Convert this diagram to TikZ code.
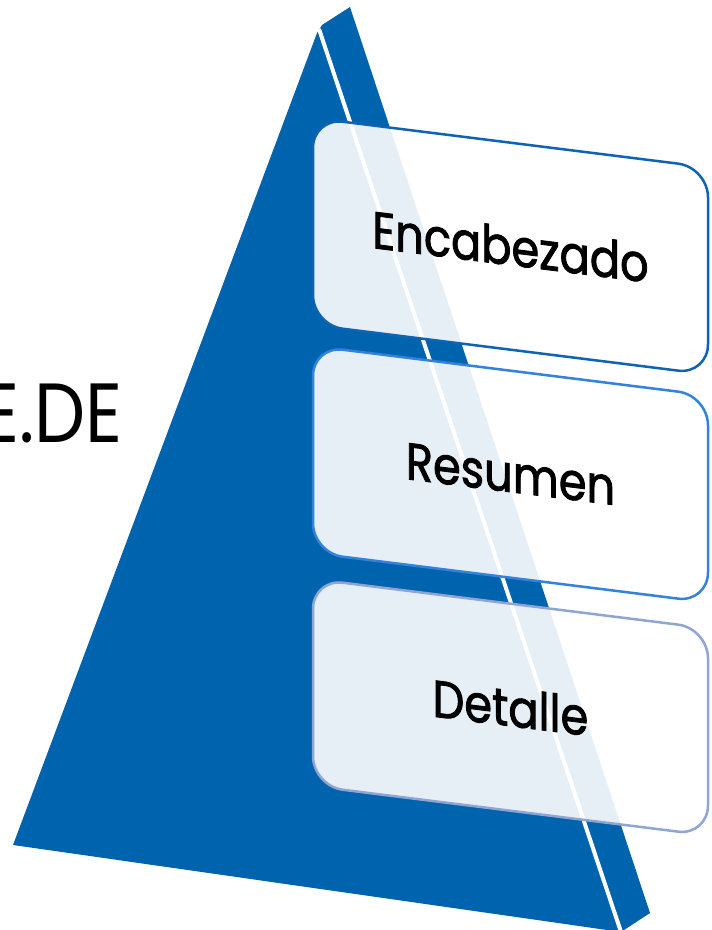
\documentclass[tikz,border=0pt]{standalone}
\usepackage{fontspec}
\newfontfamily\geofont[FakeStretch=0.86]{Poppins}
\newfontfamily\geoboxfont[FakeStretch=0.86,FakeBold=1.6]{Poppins}
\definecolor{pyrblue}{RGB}{0,99,173}
\definecolor{edgeone}{RGB}{16,98,178}
\definecolor{edgetwo}{RGB}{52,130,220}
\definecolor{edgethree}{RGB}{143,166,212}
\tikzset{
  levelbox/.style={fill=white,fill opacity=0.9,rounded corners=30pt,line width=2.5pt},
  leveltext/.style={font=\geoboxfont\fontsize{52}{60}\selectfont,inner sep=0pt,transform shape}
}
\begin{document}
\begin{tikzpicture}[x=1pt,y=-1pt]
\useasboundingbox (0,0) rectangle (712,930);
\clip (0,0) rectangle (712,930);
% pyramid with its white ridge
\fill[pyrblue] (317,33) -- (322,25) -- (350,7) -- (650,913) -- (621,932) -- (13,845) -- cycle;
\draw[white,line width=4pt] (319,29) -- (622,935);
\node[font=\geofont\fontsize{84}{90}\selectfont,anchor=base east,inner sep=0pt] (title) at (123,442) {E.DE};
% the three levels
\begin{scope}[shift={(313,118)},yslant=-0.125]
\draw[levelbox,draw=edgeone] (0,0) rectangle (395,207);
\node[leveltext] (head) at (197.5,103.5) {Encabezado};
\end{scope}
\begin{scope}[shift={(313,346)},yslant=-0.125]
\draw[levelbox,draw=edgetwo] (0,0) rectangle (395,207);
\node[leveltext] (summary) at (197.5,103.5) {Resumen};
\end{scope}
\begin{scope}[shift={(313,579)},yslant=-0.125]
\draw[levelbox,draw=edgethree] (0,0) rectangle (395,207);
\node[leveltext] (detail) at (197.5,103.5) {Detalle};
\end{scope}
\end{tikzpicture}
\end{document}
